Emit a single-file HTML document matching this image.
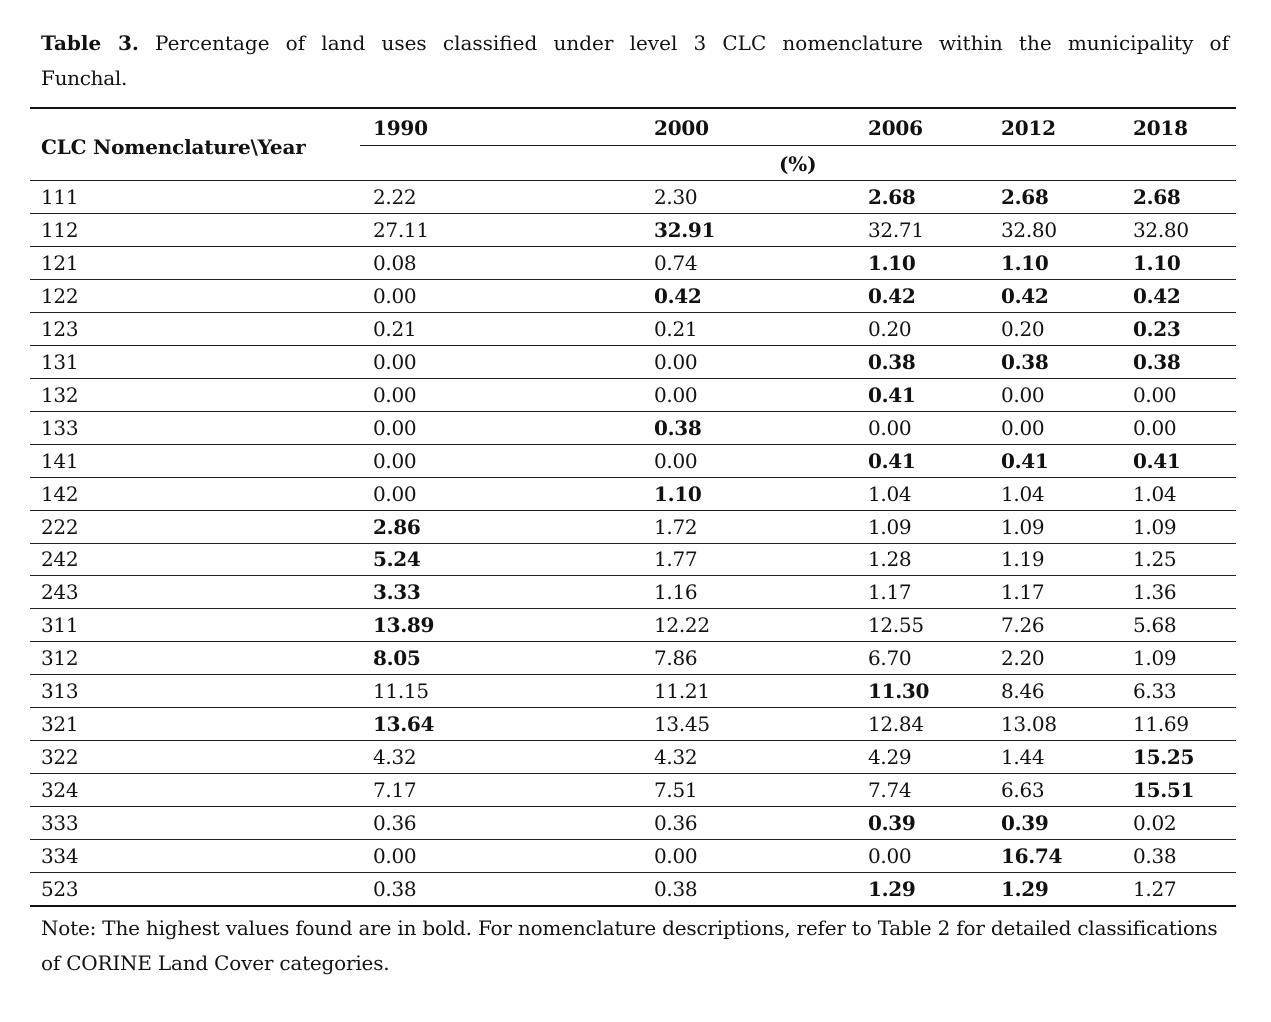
<!DOCTYPE html>
<html><head><meta charset="utf-8"><style>
body{margin:0;width:1271px;height:1022px;background:#fff;font-family:"DejaVu Serif","Liberation Serif",serif;color:#111;position:relative;overflow:hidden}
.a{position:absolute;white-space:nowrap;font-size:20px;line-height:33px;letter-spacing:-0.2px}
.t1{position:absolute;left:41px;top:26px;width:1188px;font-size:20px;line-height:35px;text-align:justify;text-align-last:justify;white-space:nowrap}
.t2{position:absolute;left:41px;top:61px;font-size:20px;line-height:35px;letter-spacing:-0.3px}
.r{position:absolute;left:30px;width:1206px;height:32px;border-bottom:1px solid #222}
.r span{position:absolute;top:0;font-size:20px;line-height:33px;letter-spacing:-0.3px}
b{font-weight:bold}
</style></head><body>
<div class="t1"><b>Table 3.</b> Percentage of land uses classified under level 3 CLC nomenclature within the municipality of</div>
<div class="t2">Funchal.</div>
<div style="position:absolute;left:30px;top:107px;width:1206px;height:2px;background:#111"></div>
<div class="a" style="left:41px;top:131px"><b>CLC Nomenclature\Year</b></div>
<div class="a" style="left:373px;top:112px"><b>1990</b></div>
<div class="a" style="left:654px;top:112px"><b>2000</b></div>
<div class="a" style="left:868px;top:112px"><b>2006</b></div>
<div class="a" style="left:1001px;top:112px"><b>2012</b></div>
<div class="a" style="left:1133px;top:112px"><b>2018</b></div>
<div style="position:absolute;left:360px;top:145px;width:876px;height:1px;background:#222"></div>
<div class="a" style="left:779px;top:148px"><b>(%)</b></div>
<div style="position:absolute;left:30px;top:180px;width:1206px;height:1px;background:#222"></div>
<div id="rows"></div>
<div style="position:absolute;left:30px;top:905px;width:1206px;height:2px;background:#111"></div>
<div class="a" style="left:41px;top:912px">Note: The highest values found are in bold. For nomenclature descriptions, refer to Table 2 for detailed classifications</div>
<div class="a" style="left:41px;top:947px">of CORINE Land Cover categories.</div>
<script>
var d=[["111","2.22","2.30","*2.68","*2.68","*2.68"],["112","27.11","*32.91","32.71","32.80","32.80"],["121","0.08","0.74","*1.10","*1.10","*1.10"],["122","0.00","*0.42","*0.42","*0.42","*0.42"],["123","0.21","0.21","0.20","0.20","*0.23"],["131","0.00","0.00","*0.38","*0.38","*0.38"],["132","0.00","0.00","*0.41","0.00","0.00"],["133","0.00","*0.38","0.00","0.00","0.00"],["141","0.00","0.00","*0.41","*0.41","*0.41"],["142","0.00","*1.10","1.04","1.04","1.04"],["222","*2.86","1.72","1.09","1.09","1.09"],["242","*5.24","1.77","1.28","1.19","1.25"],["243","*3.33","1.16","1.17","1.17","1.36"],["311","*13.89","12.22","12.55","7.26","5.68"],["312","*8.05","7.86","6.70","2.20","1.09"],["313","11.15","11.21","*11.30","8.46","6.33"],["321","*13.64","13.45","12.84","13.08","11.69"],["322","4.32","4.32","4.29","1.44","*15.25"],["324","7.17","7.51","7.74","6.63","*15.51"],["333","0.36","0.36","*0.39","*0.39","0.02"],["334","0.00","0.00","0.00","*16.74","0.38"],["523","0.38","0.38","*1.29","*1.29","1.27"]];
var xs=[11,343,624,838,971,1103],h="";
d.forEach(function(r,i){var top=181+i*32.95;h+='<div class="r" style="top:'+top+'px;'+(i==21?'border:none':'')+'">';
r.forEach(function(v,j){var t=v[0]=="*"?"<b>"+v.slice(1)+"</b>":v;h+='<span style="left:'+xs[j]+'px">'+t+'</span>';});h+='</div>';});
document.getElementById("rows").innerHTML=h;
</script>
</body></html>
